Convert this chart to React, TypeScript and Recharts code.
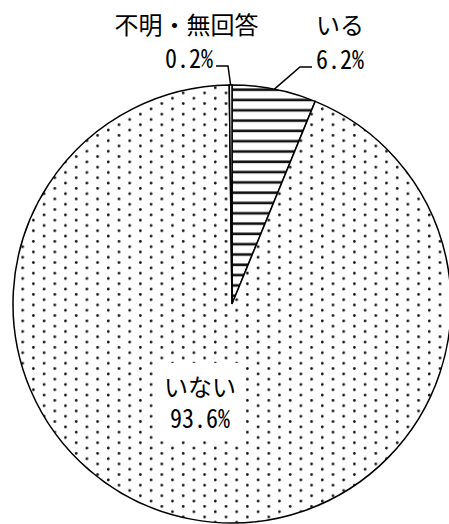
import { PieChart, Pie, Cell } from "recharts";

const categories = ["いる", "いない", "不明・無回答"];
const shares = [6.2, 93.6, 0.2];

const data = categories.map((name, i) => ({ name, value: shares[i] }));

// pattern fills per slice
const sliceFills = ["url(#stripes)", "url(#dots)", "#ffffff"];

const RAD = Math.PI / 180;
const FONT = "'Noto Sans Mono CJK JP', 'Noto Sans CJK JP', sans-serif";

function renderLabel(props: any) {
  const { cx, cy, midAngle, outerRadius, index, value } = props;
  const px = cx + outerRadius * Math.cos(-midAngle * RAD);
  const py = cy + outerRadius * Math.sin(-midAngle * RAD);
  const name = categories[index];
  const pct = `${Number(value).toFixed(1)}%`;
  const txt = { fontFamily: FONT, fontSize: 24, fill: "#000" };
  // digits are drawn a bit taller and squeezed to the half-width cell
  const num = {
    fontFamily: FONT,
    fontSize: 26,
    fill: "#000",
    textLength: pct.length * 12,
    lengthAdjust: "spacingAndGlyphs",
  };

  if (index === 0) {
    return (
      <g>
        <polyline
          points={`${px},${py} ${cx + 68},${cy - 237} ${cx + 80},${cy - 237}`}
          fill="none"
          stroke="#000"
          strokeWidth={1.5}
        />
        <text x={cx + 108} y={cy - 270} textAnchor="middle" {...txt}>
          {name}
        </text>
        <text x={cx + 84} y={cy - 235} textAnchor="start" {...num}>
          {pct}
        </text>
      </g>
    );
  }
  if (index === 2) {
    return (
      <g>
        <polyline
          points={`${px},${py} ${cx - 4},${cy - 238} ${cx - 16},${cy - 238}`}
          fill="none"
          stroke="#000"
          strokeWidth={1.5}
        />
        <text x={cx - 45.5} y={cy - 270} textAnchor="middle" {...txt}>
          {name}
        </text>
        <text x={cx - 19} y={cy - 236} textAnchor="end" {...num}>
          {pct}
        </text>
      </g>
    );
  }
  return (
    <g>
      <rect x={cx - 75} y={cy + 59} width={86} height={77} fill="#fff" />
      <text x={cx - 32} y={cy + 92} textAnchor="middle" {...txt}>
        {name}
      </text>
      <text x={cx - 32} y={cy + 124} textAnchor="middle" {...num}>
        {pct}
      </text>
    </g>
  );
}

export default function App() {
  return (
    <div style={{ position: "absolute", left: 0, top: 0, background: "#fff" }}>
      <PieChart width={449} height={524} margin={{ top: 0, right: 0, bottom: 0, left: 0 }}>
        <defs>
          <pattern id="stripes" patternUnits="userSpaceOnUse" width={10} height={10.3}>
            <rect x={0} y={0} width={10} height={10.3} fill="#fff" />
            <rect x={0} y={6} width={10} height={2.6} fill="#111" />
          </pattern>
          <pattern id="dots" patternUnits="userSpaceOnUse" width={21.4} height={10.6}>
            <rect x={0} y={0} width={21.4} height={10.6} fill="#fff" />
            <circle cx={1.3} cy={2.9} r={1.35} fill="#111" />
            <circle cx={12} cy={8.2} r={1.35} fill="#111" />
          </pattern>
        </defs>
        <Pie
          data={data}
          dataKey="value"
          nameKey="name"
          cx={232}
          cy={304}
          outerRadius={219}
          startAngle={90}
          endAngle={-270}
          stroke="#000"
          strokeWidth={1.5}
          label={renderLabel}
          labelLine={false}
          isAnimationActive={false}
        >
          {data.map((d, i) => (
            <Cell key={d.name} fill={sliceFills[i]} />
          ))}
        </Pie>
      </PieChart>
    </div>
  );
}
